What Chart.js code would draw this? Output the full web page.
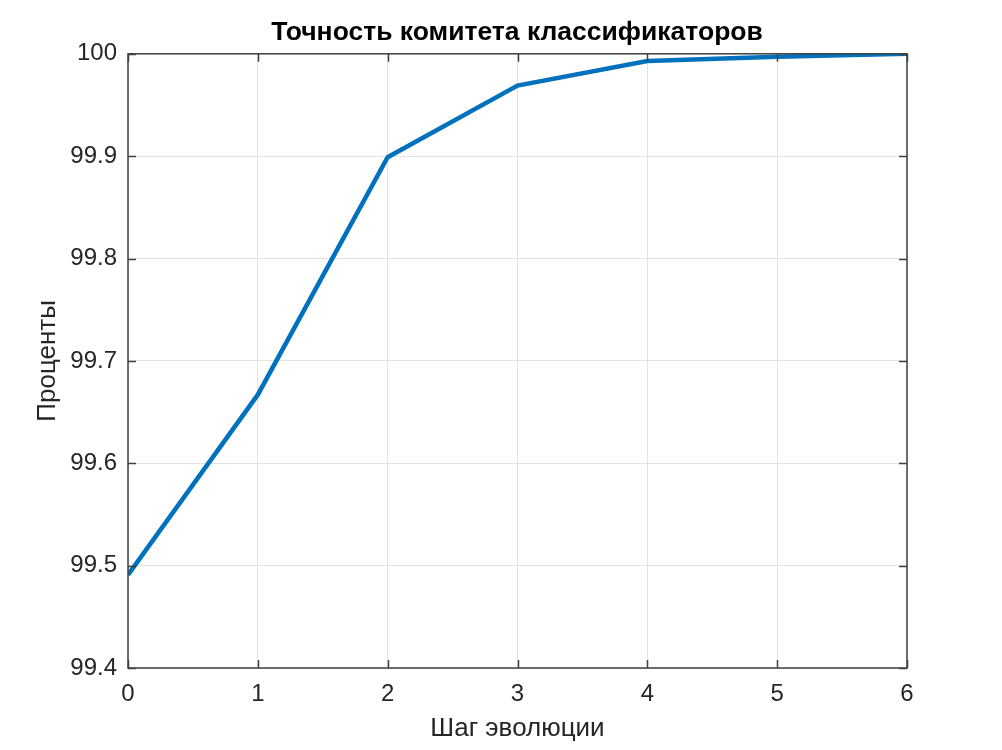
<!DOCTYPE html>
<html>
<head>
<meta charset="utf-8">
<script src="https://cdn.jsdelivr.net/npm/chart.js@4/dist/chart.umd.min.js"></script>
<style>
  html, body { margin: 0; padding: 0; background: #fff; }
  #wrap { width: 1002px; height: 750px; position: relative; }
</style>
</head>
<body>
<div id="wrap"><canvas id="c" width="1002" height="750"></canvas></div>
<script>
const chartTitle = 'Точность комитета классификаторов';
const xTitle = 'Шаг эволюции';
const yTitle = 'Проценты';
const steps = [0, 1, 2, 3, 4, 5, 6];
const accuracy = [99.491, 99.667, 99.899, 99.969, 99.993, 99.997, 100.0];
const yTicks = [99.4, 99.5, 99.6, 99.7, 99.8, 99.9, 100];

const FONT = '"Liberation Sans", Arial, sans-serif';
const AXIS = '#404040';

const boxPlugin = {
  id: 'matlabBox',
  afterDraw(chart) {
    const {ctx, chartArea: a, scales: {x, y}} = chart;
    ctx.save();
    ctx.strokeStyle = AXIS;
    ctx.lineWidth = 1.5;
    ctx.strokeRect(a.left, a.top, a.right - a.left, a.bottom - a.top);
    const tl = 8;
    ctx.beginPath();
    x.ticks.forEach(t => {
      const px = Math.round(x.getPixelForValue(t.value)) + 0.5;
      ctx.moveTo(px, a.bottom); ctx.lineTo(px, a.bottom - tl);
      ctx.moveTo(px, a.top); ctx.lineTo(px, a.top + tl);
    });
    y.ticks.forEach(t => {
      const py = Math.round(y.getPixelForValue(t.value)) + 0.5;
      ctx.moveTo(a.left, py); ctx.lineTo(a.left + tl, py);
      ctx.moveTo(a.right, py); ctx.lineTo(a.right - tl, py);
    });
    ctx.stroke();
    ctx.restore();
  }
};

new Chart(document.getElementById('c'), {
  type: 'line',
  data: {
    datasets: [{
      data: steps.map((s, i) => ({x: s, y: accuracy[i]})),
      borderColor: '#0072BD',
      borderWidth: 4.5,
      pointRadius: 0,
      tension: 0,
      fill: false
    }]
  },
  options: {
    responsive: false,
    animation: false,
    layout: { padding: { left: 32, right: 0, top: 0, bottom: 0 } },
    plugins: {
      legend: { display: false },
      tooltip: { enabled: false },
      title: {
        display: true,
        text: chartTitle,
        color: '#000',
        font: { family: FONT, size: 26.5, weight: 'bold' },
        padding: { top: 17, bottom: 5 }
      }
    },
    scales: {
      x: {
        type: 'linear',
        min: 0, max: 6,
        afterBuildTicks(s) { s.ticks = steps.map(v => ({value: v})); },
        afterFit(s) { s.height = 82; },
        grid: { color: '#e3e3e3', drawTicks: false, lineWidth: 1 },
        border: { display: false },
        ticks: { color: '#262626', font: { family: FONT, size: 24 }, padding: 12, maxRotation: 0 },
        title: { display: true, text: xTitle, color: '#262626', font: { family: FONT, size: 26 }, padding: { top: 0, bottom: 6 } }
      },
      y: {
        type: 'linear',
        min: 99.4, max: 100,
        afterBuildTicks(s) { s.ticks = yTicks.map(v => ({value: v})); },
        afterFit(s) { s.width = 96; },
        grid: { color: '#e3e3e3', drawTicks: false, lineWidth: 1 },
        border: { display: false },
        ticks: { color: '#262626', font: { family: FONT, size: 24 }, padding: 11,
          callback: v => String(Math.round(v * 10) / 10) },
        title: { display: true, text: yTitle, color: '#262626', font: { family: FONT, size: 26 }, padding: { top: 0, bottom: 0 } }
      },
      yRight: {
        type: 'linear',
        position: 'right',
        display: true,
        min: 99.4, max: 100,
        afterFit(s) { s.width = 95; },
        grid: { display: false, drawTicks: false },
        border: { display: false },
        ticks: { display: false },
        title: { display: false }
      }
    }
  },
  plugins: [boxPlugin]
});
</script>
</body>
</html>
